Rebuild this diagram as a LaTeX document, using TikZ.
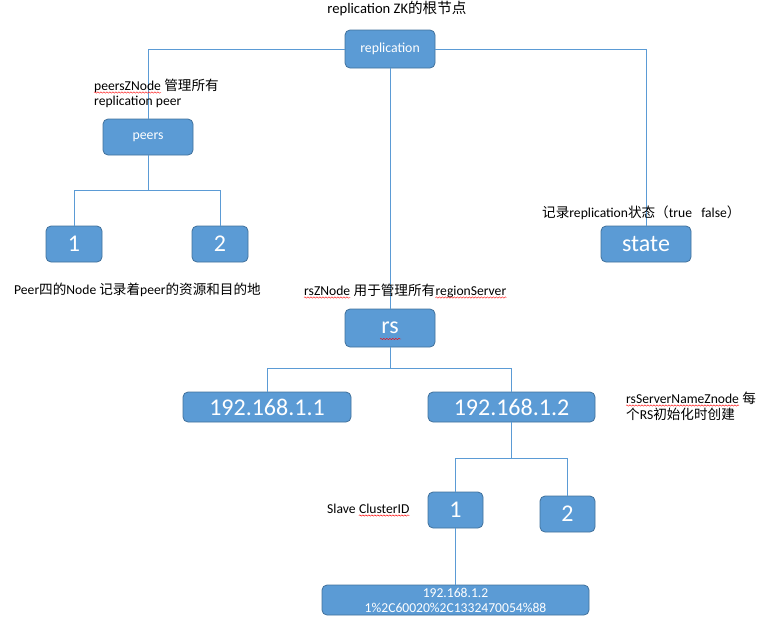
\documentclass[tikz,border=0pt]{standalone}
\usepackage{fontspec}
\setmainfont{Carlito}
\newfontfamily\cjk{Noto Sans CJK SC}
\usetikzlibrary{decorations.pathmorphing}

\definecolor{boxfill}{HTML}{5B9BD5}
\definecolor{boxedge}{HTML}{41719C}
\definecolor{linkcol}{HTML}{5B9BD5}

\tikzset{
  box/.style={draw=boxedge, fill=boxfill, rounded corners=5pt, text=white,
    line width=0.8pt, minimum width=90pt, minimum height=38pt,
    font=\fontsize{13.8}{15}\selectfont},
  bigbox/.style={box, font=\fontsize{24}{26}\selectfont},
  link/.style={draw=linkcol, line width=0.9pt},
  note/.style={inner sep=0pt, font=\fontsize{13.6}{15}\selectfont},
  squiggle/.style={red, line width=0.4pt, decorate,
    decoration={snake, amplitude=0.7pt, segment length=3pt}}
}

\begin{document}
\begin{tikzpicture}[x=1pt,y=-1pt]
  \useasboundingbox (0,0) rectangle (759,619);

  % tree nodes
  \node[box] (repl) at (390,49) {replication};
  \node[box, minimum height=36pt] (peers) at (148,137) {peers};
  \node[bigbox, minimum width=56pt, minimum height=36pt] (p1) at (74,244) {1};
  \node[bigbox, minimum width=56pt, minimum height=36pt] (p2) at (220,244) {2};
  \node[bigbox, minimum height=36pt] (state) at (646,244) {state};
  \node[bigbox] (rs) at (390,328) {rs};
  \node[bigbox, minimum width=168pt, minimum height=30pt] (ip1) at (267,407) {192.168.1.1};
  \node[bigbox, minimum width=167pt, minimum height=30pt] (ip2) at (511.5,407) {192.168.1.2};
  \node[bigbox, minimum width=55pt, minimum height=36pt] (s1) at (455.5,510) {1};
  \node[bigbox, minimum width=55pt, minimum height=36pt] (s2) at (567.5,514) {2};
  \node[box, minimum width=267pt, minimum height=30pt, inner sep=0pt, align=center,
    font=\fontsize{13.6}{15}\selectfont]
    (peer) at (455.5,600) {192.168.1.2\\1\%2C60020\%2C1332470054\%88};

  % connectors
  \draw[link] (repl.west) -| (peers.north);
  \draw[link] (repl.east) -| (state.north);
  \draw[link] (repl.south) -- (rs.north);
  \draw[link] (peers.south) -- ++(0,35) coordinate (pj);
  \draw[link] (p1.north) |- (pj) -| (p2.north);
  \draw[link] (rs.south) -- ++(0,21) coordinate (rj);
  \draw[link] (ip1.north) |- (rj) -| (ip2.north);
  \draw[link] (ip2.south) -- ++(0,36) coordinate (sj);
  \draw[link] (s1.north) |- (sj) -| (s2.north);
  \draw[link] (s1.south) -- (peer.north);

  % notes
  \node[note, anchor=base, font=\fontsize{14.6}{16}\selectfont] (title) at (397,13.5)
    {replication ZK{\cjk 的根节点}};

  \node[note, anchor=base west] (pzn) at (94,90) {peersZNode};
  \node[note, anchor=base west] (pznb) at (pzn.base east) {\hspace{3pt}{\cjk 管理所有}};
  \node[note, anchor=base west] (pznc) at (94,105) {replication peer};

  \node[note, anchor=base west] (stnote) at (542,217)
    {{\cjk 记录}replication{\cjk 状态（}true\ \ \ false{\cjk ）}};

  \node[note, anchor=base west] (pnote) at (14,294)
    {Peer{\cjk 四的}Node {\cjk 记录着}peer{\cjk 的资源和目的地}};

  \node[note, anchor=base west] (rsz) at (304,295) {rsZNode};
  \node[note, anchor=base west] (rszb) at (rsz.base east) {\hspace{3pt}{\cjk 用于管理所有}};
  \node[note, anchor=base west] (rszc) at (rszb.base east) {regionServer};

  \node[note, anchor=base west] (rsn) at (626,403) {rsServerNameZnode};
  \node[note, anchor=base west] (rsnb) at (rsn.base east) {\hspace{3pt}{\cjk 每}};
  \node[note, anchor=base west] (rsnc) at (626,419) {{\cjk 个}RS{\cjk 初始化时创建}};

  \node[note, anchor=base west] (slv) at (327,513) {Slave};
  \node[note, anchor=base west] (slvb) at (slv.base east) {\hspace{3pt}ClusterID};

  % spell-check marks
  \draw[squiggle] ([yshift=-2.5pt]pzn.base west) -- ([yshift=-2.5pt]pzn.base east);
  \draw[squiggle] ([yshift=-2.5pt]rsz.base west) -- ([yshift=-2.5pt]rsz.base east);
  \draw[squiggle] ([yshift=-2.5pt]rszc.base west) -- ([yshift=-2.5pt]rszc.base east);
  \draw[squiggle] ([yshift=-2.5pt]rsn.base west) -- ([yshift=-2.5pt]rsn.base east);
  \draw[squiggle] ([xshift=3pt,yshift=-2.5pt]slvb.base west) -- ([yshift=-2.5pt]slvb.base east);
  \draw[squiggle] ([xshift=-10pt,yshift=-11pt]rs.center) -- ([xshift=11pt,yshift=-11pt]rs.center);
\end{tikzpicture}
\end{document}
